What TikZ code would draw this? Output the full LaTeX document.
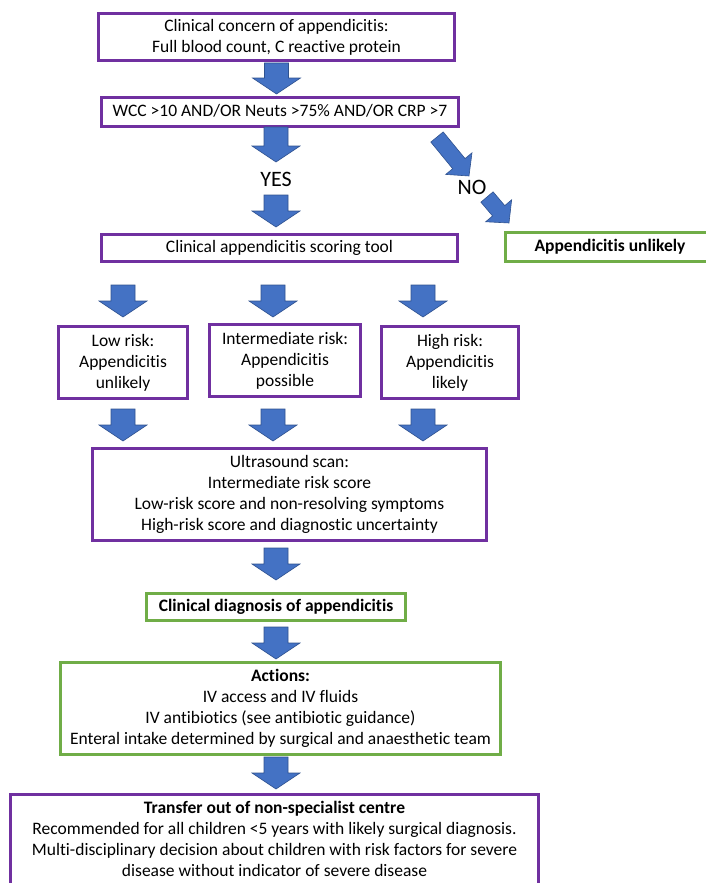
\documentclass[tikz,border=0pt]{standalone}
\usepackage{fontspec}
\setmainfont{Carlito}[Ligatures=NoCommon]
\usetikzlibrary{calc}
\definecolor{boxpurple}{HTML}{7030A0}
\definecolor{boxgreen}{HTML}{70AD47}
\definecolor{arrowblue}{HTML}{4472C4}
\definecolor{arrowedge}{HTML}{2F528F}
\tikzset{
	box/.style={line width=3pt, fill=white, align=center, inner sep=0pt, text depth=3pt,
		font=\fontsize{17.5}{21}\selectfont},
	purplebox/.style={box, draw=boxpurple},
	greenbox/.style={box, draw=boxgreen},
	% block arrow drawn between two points: shaft half width, head half width, head length
	blockarrow/.style n args={3}{fill=arrowblue, draw=arrowedge, line width=0.6pt,
		to path={let \p1=(\tikztostart), \p2=(\tikztotarget),
			\n1={veclen(\x2-\x1,\y2-\y1)}, \n2={atan2(\y2-\y1,\x2-\x1)} in
			([shift={(\p1)},rotate=\n2]0pt,#1pt)
			-- ([shift={(\p1)},rotate=\n2]{\n1*1pt-#3pt},#1pt)
			-- ([shift={(\p1)},rotate=\n2]{\n1*1pt-#3pt},#2pt)
			-- ([shift={(\p1)},rotate=\n2]{\n1*1pt},0pt)
			-- ([shift={(\p1)},rotate=\n2]{\n1*1pt-#3pt},-#2pt)
			-- ([shift={(\p1)},rotate=\n2]{\n1*1pt-#3pt},-#1pt)
			-- ([shift={(\p1)},rotate=\n2]0pt,-#1pt) -- cycle}},
	bigarrow/.style={blockarrow={12}{24}{16}},
	smallarrow/.style={blockarrow={8}{17}{16}},
	answer/.style={font=\fontsize{22}{26}\selectfont, inner sep=1pt}
}
\begin{document}
\begin{tikzpicture}[x=1pt,y=-1pt]
	\useasboundingbox (0,0) rectangle (705,883);
	% boxes
	\node[purplebox, minimum width=356pt, minimum height=47pt] (concern) at (276.5,37)
		{Clinical concern of appendicitis:\\Full blood count, C reactive protein};
	\node[purplebox, minimum width=357pt, minimum height=29pt] (wcc) at (280,112)
		{WCC >10 AND/OR Neuts >75\% AND/OR CRP >7};
	\node[purplebox, minimum width=356pt, minimum height=27pt] (scoring) at (279.5,248)
		{Clinical appendicitis scoring tool};
	\node[greenbox, minimum width=209pt, minimum height=29pt] (unlikely) at (610,247)
		{\bfseries Appendicitis unlikely};
	\node[purplebox, minimum width=129pt, minimum height=72pt] (low) at (123,362.5)
		{Low risk:\\Appendicitis\\unlikely};
	\node[purplebox, minimum width=151pt, minimum height=72pt] (inter) at (285,360.5)
		{Intermediate risk:\\Appendicitis\\possible};
	\node[purplebox, minimum width=137pt, minimum height=72pt] (high) at (450,362.5)
		{High risk:\\Appendicitis\\likely};
	\node[purplebox, minimum width=394pt, minimum height=92pt] (ultra) at (289.5,494.5)
		{Ultrasound scan:\\Intermediate risk score\\Low-risk score and non-resolving symptoms\\High-risk score and diagnostic uncertainty};
	\node[greenbox, minimum width=259pt, minimum height=27pt] (diag) at (276,607)
		{\bfseries Clinical diagnosis of appendicitis};
	\node[greenbox, minimum width=440pt, minimum height=92pt] (actions) at (280.5,708.5)
		{\textbf{Actions:}\\IV access and IV fluids\\IV antibiotics (see antibiotic guidance)\\Enteral intake determined by surgical and anaesthetic team};
	\node[purplebox, minimum width=528pt, minimum height=92pt] (transfer) at (274.5,840.5)
		{\textbf{Transfer out of non-specialist centre}\\Recommended for all children <5 years with likely surgical diagnosis.\\Multi-disciplinary decision about children with risk factors for severe\\disease without indicator of severe disease};
	\node[answer] (yes) at (276,179) {YES};
	\node[answer] (no) at (472,187) {NO};
	\coordinate (lowx) at (123,0);
	\coordinate (midx) at (273,0);
	\coordinate (highx) at (423,0);
	% arrows
	\draw[bigarrow] ($(concern.south)+(0,1)$) to ($(concern.south |- wcc.north)+(0,-2)$);
	\draw[bigarrow] ($(yes |- wcc.south)+(0,-1)$) to ($(yes.center)+(0,-17)$);
	\draw[bigarrow] ($(yes.center)+(0,16)$) to ($(yes |- scoring.north)+(0,-6)$);
	\draw[smallarrow] ($(wcc.south east)+(-23,9)$) to ($(no.center)+(-3,-11)$);
	\draw[smallarrow] ($(no.center)+(15,10)$) to ($(unlikely.north west)+(5,-8)$);
	\foreach \c in {lowx,midx,highx}{
		\draw[bigarrow] ($(\c |- scoring.south)+(0,22)$) to ($(\c |- scoring.south)+(0,54)$);
		\draw[bigarrow] ($(\c |- ultra.north)+(0,-38)$) to ($(\c |- ultra.north)+(0,-6)$);
	}
	\draw[bigarrow] ($(diag.north |- ultra.south)+(0,6)$) to ($(diag.north)+(0,-12)$);
	\draw[bigarrow] ($(diag.south)+(0,5)$) to ($(diag.south |- actions.north)+(0,-2)$);
	\draw[bigarrow] ($(diag.south |- actions.south)+(0,1)$) to ($(diag.south |- transfer.north)+(0,-4)$);
\end{tikzpicture}
\end{document}
